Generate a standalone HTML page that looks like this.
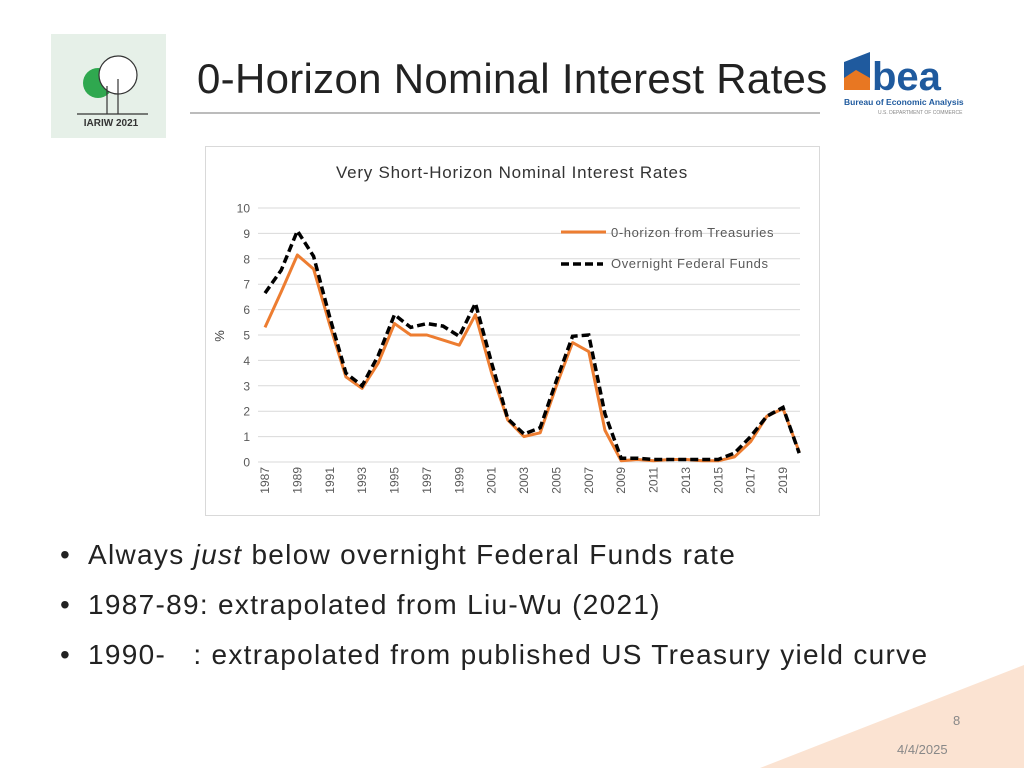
<!DOCTYPE html>
<html><head><meta charset="utf-8"><style>
body{margin:0;width:1024px;height:768px;overflow:hidden;background:#fff;font-family:"Liberation Sans",sans-serif;position:relative}
.abs{position:absolute}
.b{position:relative;padding-left:28px}
.b span.dot{position:absolute;left:0}
</style></head><body>
<svg class="abs" style="left:0;top:0" width="1024" height="768">
<polygon points="1024,665 1024,768 760,768" fill="#fbe3d2"/>
<line x1="190" y1="113" x2="820" y2="113" stroke="#a6a6a6" stroke-width="1.5"/>
</svg>
<div class="abs" style="left:51px;top:34px;width:115px;height:104px;background:#e6f0e8">
<svg width="115" height="104">
<circle cx="47" cy="49" r="15" fill="#2fa84f"/>
<circle cx="67" cy="41" r="19" fill="#fff" stroke="#333" stroke-width="1.2"/>
<line x1="67" y1="45" x2="67" y2="80" stroke="#333" stroke-width="1.2"/>
<line x1="56" y1="52" x2="56" y2="80" stroke="#333" stroke-width="1.2"/>
<line x1="26" y1="80" x2="97" y2="80" stroke="#333" stroke-width="1.2"/>
<text x="60" y="92" font-size="10" font-weight="bold" fill="#333" text-anchor="middle" font-family="Liberation Sans">IARIW 2021</text>
</svg></div>
<div class="abs" style="left:197px;top:55px;font-size:42px;letter-spacing:0.3px;color:#222">0-Horizon Nominal Interest Rates</div>
<div class="abs" style="left:842px;top:50px;width:135px;height:68px">
<svg width="135" height="68">
<polygon points="2,12 28,2 28,40 2,40" fill="#1f5a9e"/>
<polygon points="2,28 14,20 28,28 28,40 2,40" fill="#e87722"/>
<text x="30" y="40" font-size="40" font-weight="bold" fill="#1f5a9e" font-family="Liberation Sans">bea</text>
<text x="2" y="55" font-size="8.5" font-weight="bold" fill="#1f5a9e" font-family="Liberation Sans">Bureau of Economic Analysis</text>
<text x="36" y="64" font-size="5" fill="#888" font-family="Liberation Sans">U.S. DEPARTMENT OF COMMERCE</text>
</svg></div>
<svg class="abs" style="left:0;top:0" width="1024" height="768" id="chart">
<rect x="205.5" y="146.5" width="614" height="369" fill="#fff" stroke="#d9d9d9"/>
<text x="512" y="178" font-size="17" letter-spacing="0.75" fill="#333" text-anchor="middle">Very Short-Horizon  Nominal Interest Rates</text>
<text transform="translate(224,336) rotate(-90)" font-size="13" fill="#404040" text-anchor="middle">%</text>
<g id="grid"></g><g id="series"></g>
<g>
<line x1="561" y1="232" x2="606" y2="232" stroke="#ed7d31" stroke-width="3"/>
<text x="611" y="237" font-size="13" letter-spacing="0.6" fill="#595959">0-horizon from Treasuries</text>
<line x1="561" y1="264" x2="603" y2="264" stroke="#000" stroke-width="3.5" stroke-dasharray="8,4"/>
<text x="611" y="268" font-size="13" letter-spacing="0.6" fill="#595959">Overnight Federal Funds</text>
</g>
</svg>
<div class="abs" style="left:60px;top:530px;font-size:28px;letter-spacing:1.3px;color:#222;line-height:50px">
<div class="b"><span class="dot">•</span>Always <i>just</i> below overnight Federal Funds rate</div>
<div class="b"><span class="dot">•</span>1987-89: extrapolated from Liu-Wu (2021)</div>
<div class="b"><span class="dot">•</span>1990-&nbsp;&nbsp;&nbsp;: extrapolated from published US Treasury yield curve</div>
</div>
<div class="abs" style="left:953px;top:713px;font-size:13px;color:#888">8</div>
<div class="abs" style="left:897px;top:742px;font-size:13px;color:#888">4/4/2025</div>
<script>
const years=[1987,1988,1989,1990,1991,1992,1993,1994,1995,1996,1997,1998,1999,2000,2001,2002,2003,2004,2005,2006,2007,2008,2009,2010,2011,2012,2013,2014,2015,2016,2017,2018,2019,2020];
const treasuries=[5.3,6.7,8.15,7.6,5.4,3.35,2.9,3.9,5.45,5.0,5.0,4.8,4.6,5.8,3.5,1.65,1.0,1.15,3.0,4.7,4.35,1.25,0.05,0.1,0.05,0.1,0.1,0.05,0.05,0.2,0.8,1.8,2.1,0.4];
const fedFunds=[6.65,7.55,9.1,8.1,5.7,3.5,3.0,4.2,5.8,5.3,5.45,5.35,4.95,6.25,3.9,1.7,1.1,1.35,3.2,4.95,5.0,1.9,0.15,0.15,0.1,0.1,0.1,0.1,0.1,0.35,1.0,1.8,2.15,0.35];
const yTicks=[0,1,2,3,4,5,6,7,8,9,10];
const NS="http://www.w3.org/2000/svg";
const X=y=>265+(y-1987)*(783-265)/32;
const Y=v=>462-v*25.4;
function mk(t,a,p){const e=document.createElementNS(NS,t);for(const k in a)e.setAttribute(k,a[k]);p.appendChild(e);return e;}
const g=document.getElementById('grid');
yTicks.forEach(t=>{
 const l=mk('line',{x1:258,x2:800,y1:Y(t),y2:Y(t),stroke:'#d9d9d9'},g);
 
 
 const tx=mk('text',{x:250,y:Y(t)+4.5,'font-size':12,fill:'#595959','text-anchor':'end'},g);
 tx.textContent=t;
 
 
});
years.forEach(yr=>{if((yr-1987)%2)return;
 const tx=mk('text',{transform:`translate(${X(yr)+4},467) rotate(-90)`,'font-size':12,fill:'#595959','text-anchor':'end'},g);
 tx.textContent=yr;
 
 
});
const s=document.getElementById('series');
const pts=arr=>arr.map((v,i)=>X(years[i])+','+Y(v)).join(' ');
const p1=mk('polyline',{points:pts(treasuries),fill:'none',stroke:'#ed7d31','stroke-width':3,'stroke-linejoin':'round'},s);


const p2=mk('polyline',{points:pts(fedFunds),fill:'none',stroke:'#000','stroke-width':3.5,'stroke-dasharray':'8,4'},s);


</script>
</body></html>
